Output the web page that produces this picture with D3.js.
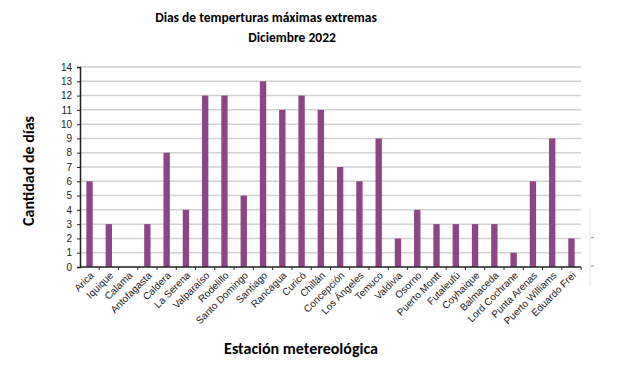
<!DOCTYPE html>
<html>
<head>
<meta charset="utf-8">
<script src="https://cdn.jsdelivr.net/npm/d3@7"></script>
<style>
  body { margin: 0; background: #fff; }
  svg { display: block; }
</style>
</head>
<body>
<div id="chart"></div>
<script>

var estaciones = ["Arica", "Iquique", "Calama", "Antofagasta", "Caldera", "La Serena",
  "Valparaíso", "Rodelillo", "Santo Domingo", "Santiago", "Rancagua", "Curicó",
  "Chillán", "Concepción", "Los Ángeles", "Temuco", "Valdivia", "Osorno",
  "Puerto Montt", "Futaleufú", "Coyhaique", "Balmaceda", "Lord Cochrane",
  "Punta Arenas", "Puerto Williams", "Eduardo Frei"];

var dias = [6, 3, 0, 3, 8, 4, 12, 12, 5, 13, 11, 12, 11, 7, 6, 9, 2, 4, 3, 3, 3, 3, 1, 6, 9, 2];

var yTicks = d3.range(0, 15);

var width = 618, height = 373;
var margin = {top: 67, right: 37, bottom: 106, left: 80};

var svg = d3.select("#chart")
            .append("svg")
            .attr("width", width)
            .attr("height", height);

var x = d3.scaleBand()
          .domain(estaciones)
          .range([margin.left, width - margin.right])
          .paddingInner(0.67)
          .paddingOuter(0.33);

var y = d3.scaleLinear()
          .domain([0, 14])
          .range([height - margin.bottom, margin.top]);

// gridlines
svg.append("g")
  .selectAll("line")
  .data(yTicks.slice(1))
  .enter()
  .append("line")
  .attr("x1", margin.left)
  .attr("x2", width - margin.right)
  .attr("y1", function(d){ return y(d); })
  .attr("y2", function(d){ return y(d); })
  .style("stroke", "#d2d2d2")
  .style("stroke-width", 1.5);

// stray axis fragment at right edge of the original image
svg.append("line")
  .attr("x1", 590).attr("x2", 590)
  .attr("y1", 208).attr("y2", 286)
  .style("stroke", "#e6e6e6");
svg.selectAll(".stray")
  .data([2, 0])
  .enter()
  .append("line")
  .attr("x1", 591).attr("x2", 594)
  .attr("y1", function(d){ return y(d) - 1; })
  .attr("y2", function(d){ return y(d) - 1; })
  .style("stroke", "#999");

// bars
svg.append("g")
  .selectAll("rect")
  .data(dias)
  .enter()
  .append("rect")
  .attr("x", function(d,i){ return x(estaciones[i]); })
  .attr("y", function(d){ return y(d); })
  .attr("width", x.bandwidth())
  .attr("height", function(d){ return y(0) - y(d); })
  .style("fill", "#8e4585");

// y axis
var yAxis = svg.append("g")
  .attr("transform", "translate(" + margin.left + ",0)")
  .call(d3.axisLeft(y).tickValues(yTicks).tickSize(3).tickPadding(5));
yAxis.select(".domain").style("stroke", "#222").style("stroke-width", 1.5);
yAxis.selectAll(".tick line").style("stroke", "#222");
yAxis.selectAll("text")
  .attr("font-family", "Arial, 'Liberation Sans', sans-serif")
  .attr("font-size", "10px")
  .style("fill", "#222");

// x axis with ticks at band boundaries
var xAxisG = svg.append("g")
  .attr("transform", "translate(0," + y(0) + ")");
xAxisG.append("line")
  .attr("x1", margin.left)
  .attr("x2", width - margin.right)
  .style("stroke", "#222")
  .style("stroke-width", 1.5);
xAxisG.selectAll(".xtick")
  .data(estaciones)
  .enter()
  .append("line")
  .attr("class", "xtick")
  .attr("x1", function(d){ return x(d) + x.bandwidth() / 2 + x.step() / 2; })
  .attr("x2", function(d){ return x(d) + x.bandwidth() / 2 + x.step() / 2; })
  .attr("y1", 0)
  .attr("y2", 3)
  .style("stroke", "#222");

xAxisG.selectAll("text")
  .data(estaciones)
  .enter()
  .append("text")
  .attr("font-family", "Arial, 'Liberation Sans', sans-serif")
  .attr("font-size", "10px")
  .attr("text-anchor", "end")
  .attr("transform", function(d){
    var cx = x(d) + x.bandwidth() / 2 + 5;
    return "translate(" + cx + ",9) rotate(-45)";
  })
  .text(function(d){ return d; })
  .style("fill", "#222");

// titles
var titleFont = "Calibri, Carlito, 'Open Sans', 'DejaVu Sans', sans-serif";

svg.append("text")
  .attr("x", 266)
  .attr("y", 22)
  .attr("text-anchor", "middle")
  .attr("font-family", titleFont)
  .attr("font-weight", "bold")
  .attr("font-size", "13.5px")
  .text("Dias de temperturas máximas extremas")
  .style("fill", "#000");

svg.append("text")
  .attr("x", 292)
  .attr("y", 42)
  .attr("text-anchor", "middle")
  .attr("font-family", titleFont)
  .attr("font-weight", "bold")
  .attr("font-size", "13.5px")
  .text("Diciembre 2022")
  .style("fill", "#000");

svg.append("text")
  .attr("transform", "translate(34,171) rotate(-90)")
  .attr("text-anchor", "middle")
  .attr("font-family", titleFont)
  .attr("font-weight", "bold")
  .attr("font-size", "16px")
  .text("Cantidad de días")
  .style("fill", "#000");

svg.append("text")
  .attr("x", 301)
  .attr("y", 354)
  .attr("text-anchor", "middle")
  .attr("font-family", titleFont)
  .attr("font-weight", "bold")
  .attr("font-size", "16px")
  .text("Estación metereológica")
  .style("fill", "#000");

</script>
</body>
</html>
